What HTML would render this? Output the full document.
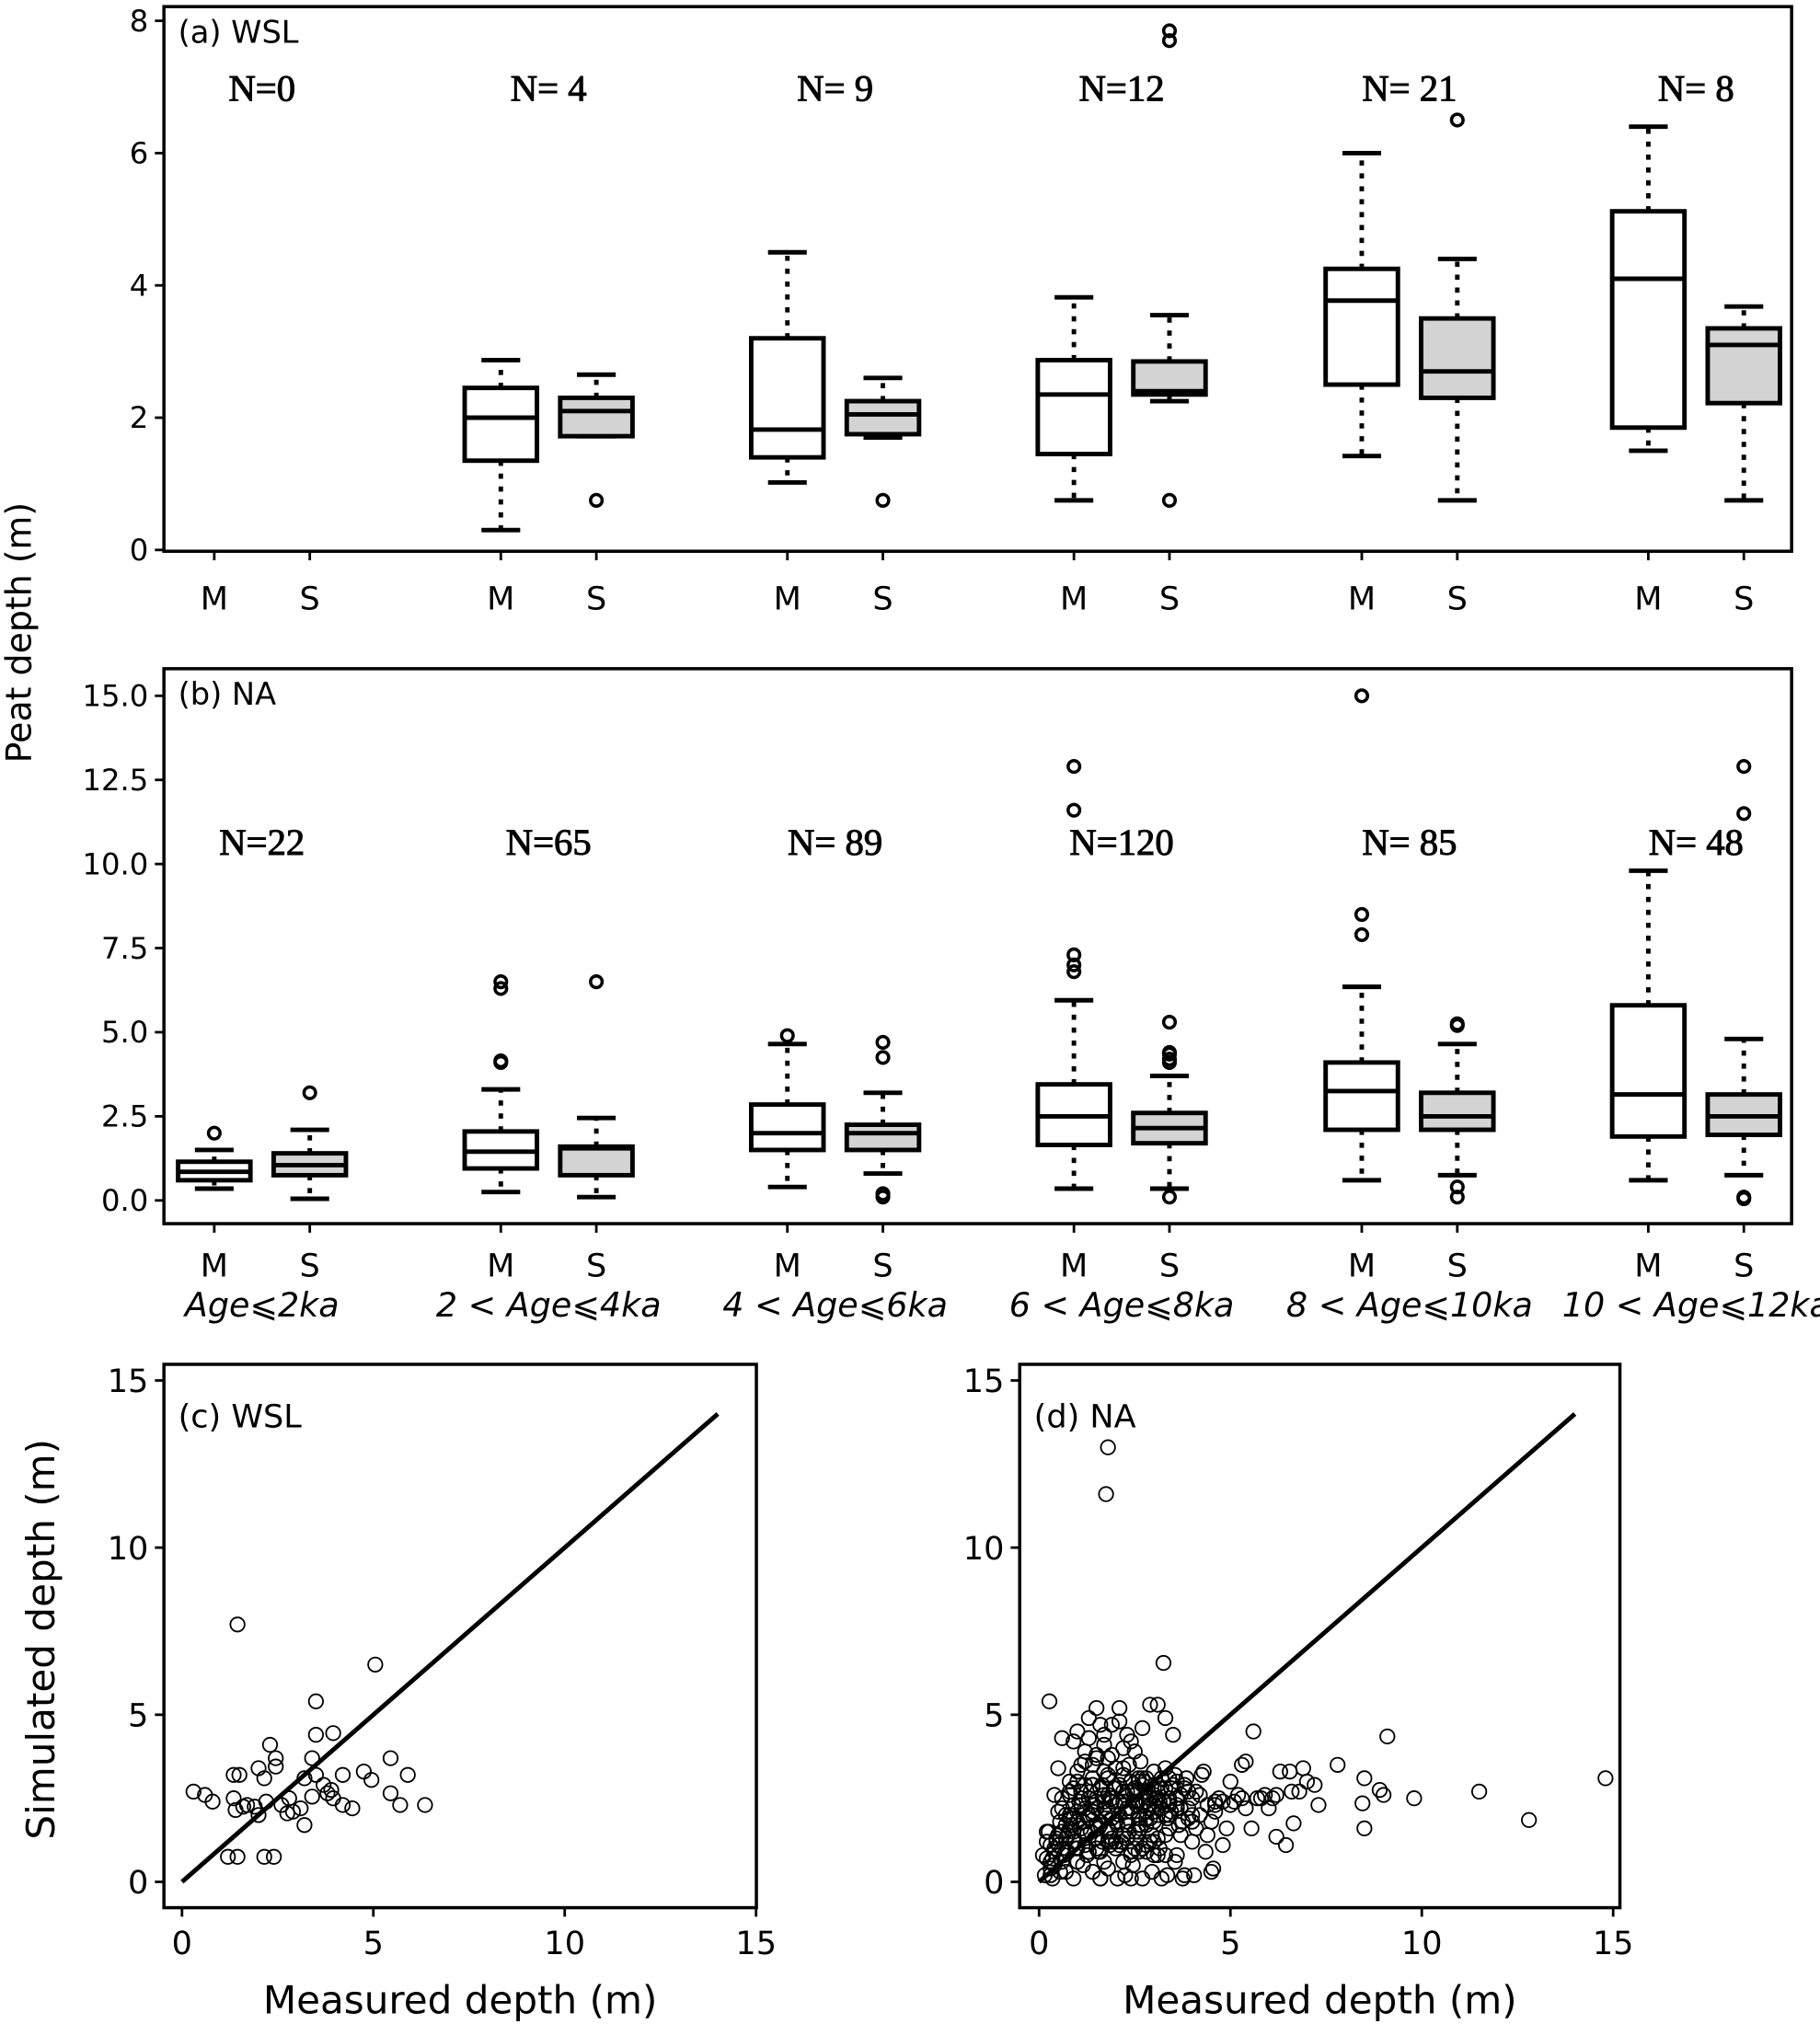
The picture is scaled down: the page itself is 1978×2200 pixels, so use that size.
<!DOCTYPE html>
<html><head><meta charset="utf-8"><style>
html,body{margin:0;padding:0;background:#fff}
svg{display:block}
text{font-family:"DejaVu Sans","Liberation Sans",sans-serif;fill:#000}
.serif{font-family:"Liberation Serif",serif}
</style></head><body>
<svg id="fig" width="1978" height="2200" viewBox="0 0 1410 1568" xmlns="http://www.w3.org/2000/svg"></svg>
<script>
// ---------- data ----------
const groupLabels = ["Age⩽2ka","2 < Age⩽4ka","4 < Age⩽6ka","6 < Age⩽8ka","8 < Age⩽10ka","10 < Age⩽12ka"];
const nWSL = ["N=0","N= 4","N= 9","N=12","N= 21","N= 8"];
const nNA = ["N=22","N=65","N= 89","N=120","N= 85","N= 48"];
// [lowWhisker, q1, median, q3, highWhisker]
const wslM = [null,[0.3,1.35,2.0,2.45,2.87],[1.02,1.4,1.82,3.2,4.5],[0.75,1.45,2.35,2.87,3.82],[1.42,2.5,3.77,4.25,6.0],[1.5,1.85,4.1,5.12,6.4]];
const wslS = [null,[1.72,1.72,2.1,2.3,2.65],[1.7,1.75,2.05,2.25,2.6],[2.25,2.35,2.4,2.85,3.55],[0.75,2.3,2.7,3.5,4.4],[0.75,2.22,3.1,3.35,3.68]];
const wslMOut = [[],[],[],[],[],[]];
const wslSOut = [[],[0.75],[0.75],[0.75,7.7,7.85],[6.5],[]];
const naM = [[0.35,0.6,0.85,1.15,1.5],[0.25,0.95,1.45,2.05,3.3],[0.4,1.5,2.0,2.85,4.65],[0.35,1.65,2.5,3.45,5.95],[0.6,2.1,3.25,4.1,6.35],[0.6,1.9,3.15,5.8,9.8]];
const naS = [[0.05,0.75,1.05,1.4,2.1],[0.1,0.75,1.55,1.6,2.45],[0.8,1.5,2.0,2.25,3.2],[0.35,1.7,2.15,2.6,3.7],[0.75,2.1,2.5,3.2,4.65],[0.75,1.95,2.5,3.15,4.8]];
const naMOut = [[2.0],[4.1,4.15,6.3,6.5],[4.9],[6.8,7.0,7.3,11.6,12.9],[7.9,8.5,15.0],[]];
const naSOut = [[3.2],[6.5],[4.25,4.7,0.1,0.2],[4.1,4.2,4.35,4.4,5.3,0.1],[5.2,5.25,0.1,0.4],[11.5,12.9,0.05,0.1]];
const yTicksA = [0,2,4,6,8];
const yTicksB = [0,2.5,5,7.5,10,12.5,15];
const yTickLabB = ["0.0","2.5","5.0","7.5","10.0","12.5","15.0"];
const sTicks = [0,5,10,15];
const wslX = [0.3,0.6,0.8,1.2,1.45,1.45,1.35,1.5,1.35,1.4,1.6,1.9,2.0,2.15,2.0,2.2,2.3,2.45,2.45,2.15,2.4,2.6,2.75,2.8,3.2,3.2,3.4,3.5,3.5,3.4,3.8,3.95,3.95,4.2,4.45,4.2,3.9,4.75,5.05,4.95,5.45,5.45,5.7,5.9,6.35,3.7,3.5,1.7,2.9,3.1];
const wslY = [2.7,2.6,2.4,0.75,0.75,7.7,3.2,3.2,2.5,2.15,2.25,2.25,3.4,3.1,2.0,2.4,4.1,3.7,3.45,0.75,0.75,2.3,2.05,2.5,1.7,3.1,3.7,4.4,3.2,2.55,2.65,4.45,2.5,2.3,2.2,3.2,2.75,3.3,6.5,3.05,3.7,2.65,2.3,3.2,2.3,2.9,5.4,2.3,2.1,2.2];
const naX = [1.8,1.75,3.25,0.27,5.6,9.1,14.8,11.5,12.8,9.8,8.9,9.0,8.5,8.45,8.5,7.8,7.3,6.45,6.2,6.65,6.55,6.9,6.8,5.55,6.2,5.9,5.4,
0.1,0.2,0.3,0.4,0.5,0.6,0.7,0.8,0.9,1.0,1.1,1.2,1.3,1.4,1.5,1.6,1.7,1.8,1.9,2.0,2.1,2.2,2.3,2.4,2.5,2.6,2.7,2.8,2.9,3.0,3.1,3.2,3.3,
0.15,0.35,0.45,0.65,0.85,0.95,1.05,1.25,1.35,1.55,1.65,1.85,1.95,2.05,2.25,2.35,2.55,2.65,2.85,2.95,3.15,3.35,3.45,3.6,3.75,3.9,
0.2,0.4,0.55,0.75,0.9,1.15,1.3,1.45,1.6,1.75,1.9,2.1,2.3,2.45,2.6,2.75,2.9,3.05,3.2,3.4,3.55,3.7,3.85,4.0,4.2,4.4,
0.3,0.5,0.7,0.95,1.1,1.25,1.4,1.55,1.7,1.85,2.0,2.15,2.35,2.5,2.65,2.8,3.0,3.15,3.3,3.5,3.65,3.8,4.1,4.3,4.5,4.7,
0.25,0.45,0.6,0.8,1.0,1.2,1.35,1.5,1.65,1.8,2.0,2.2,2.4,2.55,2.7,2.9,3.1,3.25,3.45,3.6,3.9,4.25,4.6,4.8,5.0,5.2,
0.35,0.55,0.75,1.0,1.15,1.4,1.6,1.8,2.05,2.25,2.45,2.7,2.95,3.1,3.35,3.55,3.75,4.05,4.35,4.55,4.9,5.1,5.3,5.7,6.0,6.3,
0.5,0.8,1.1,1.3,1.5,1.7,1.9,2.1,2.3,2.5,2.7,2.9,3.1,3.3,3.5,
1.0,1.3,1.5,1.7,1.9,2.2,2.5,2.8,3.0,1.2,1.6,2.1,2.4,0.6,0.9,1.4,1.8,2.6,3.2,3.4,
0.4,0.7,1.0,1.3,1.6,2.0,2.4,2.8,3.3,3.6,4.0,4.4,4.8,0.2,0.6,1.0,1.7,2.2,2.6,3.0,
1.6,1.8,2.0,2.3,1.4,1.7,2.1,2.4,0.7,0.9,1.2,1.5,1.9,2.2,2.5,2.8,3.1,3.4,3.7,4.0,
0.8,1.5,2.3,3.0,3.6,0.5,1.2,1.9,2.6,3.3,4.1,4.6,5.3,6.1,7.0,0.3,0.9,1.6,2.4,3.2,3.8,4.5,
0.6,0.9,1.1,1.4,1.6,1.9,2.1,2.4,2.6,2.9,3.1,3.4,0.7,1.0,1.3,1.5,1.8,2.0,2.3,2.6,2.8,3.0,3.3,3.6,
0.5,0.8,1.2,1.5,1.8,2.2,2.5,2.8,3.1,3.4,3.7,4.0,0.4,0.8,1.1,1.4,1.7,2.0,2.3,2.7,3.0,3.3,3.6,3.9,
0.3,0.6,0.9,1.2,1.5,1.8,2.1,2.4,2.7,3.0,1.0,1.4,1.8,2.2,2.6,3.0,3.4,3.8,4.2,4.6,5.0,5.4,5.8,6.6,7.2];
const naY = [13.0,11.6,6.55,5.4,4.5,4.35,3.1,2.7,1.85,2.5,2.75,2.6,3.1,2.35,1.6,3.5,2.3,1.1,1.35,1.75,3.3,3.4,2.7,1.6,2.6,2.6,3.6,
0.8,1.5,0.4,0.9,1.1,1.5,0.3,1.9,1.5,2.1,1.6,2.2,1.9,2.0,2.5,1.8,2.2,2.6,1.9,2.3,2.0,2.4,1.8,2.1,2.6,2.0,2.3,1.9,2.5,2.1,2.7,2.2,2.0,
0.2,0.7,1.3,0.8,1.7,1.2,2.4,1.4,2.7,1.6,2.9,1.5,2.8,1.7,2.6,1.5,2.3,1.6,2.2,1.4,2.4,1.9,2.8,2.5,1.8,2.2,
1.2,0.5,1.8,1.4,2.3,1.8,2.5,1.3,2.8,1.9,1.2,2.9,1.3,2.7,1.7,3.0,1.9,2.5,3.1,2.0,3.2,2.6,3.1,2.5,2.0,2.3,
0.6,2.1,2.0,1.0,2.7,0.8,3.1,0.9,3.3,1.1,3.4,1.2,3.5,1.0,3.6,1.1,3.3,1.0,3.4,2.9,1.7,2.8,2.7,3.3,1.8,2.5,
1.5,1.2,2.5,2.6,3.3,3.6,1.5,3.8,1.2,3.2,1.0,3.4,3.0,1.3,3.1,1.2,2.9,2.4,2.1,3.0,1.9,3.2,2.1,2.4,3.0,2.6,
0.1,0.3,0.9,0.6,0.5,0.3,0.1,0.4,0.1,0.2,0.5,0.1,0.3,0.8,0.2,0.6,0.1,0.2,0.9,0.4,1.6,2.4,3.5,2.5,2.2,3.3,
3.4,3.0,3.5,4.3,3.7,4.4,4.7,4.8,4.4,3.9,4.6,5.3,5.3,4.9,4.4,
4.5,4.9,5.2,4.1,3.8,4.0,2.4,3.1,3.3,3.9,4.7,5.2,4.2,4.3,4.2,3.5,3.7,3.1,2.8,2.5,
1.0,1.3,1.0,0.9,0.9,1.2,0.8,0.9,0.8,0.8,1.2,1.4,1.1,0.7,0.6,0.6,0.6,0.6,0.9,0.8,
1.7,1.6,1.8,1.7,2.3,2.4,2.4,2.1,2.0,2.8,2.9,2.4,2.5,2.7,2.8,2.4,2.5,2.3,2.2,2.0,
2.0,2.2,2.1,2.3,2.2,1.4,1.5,1.3,1.5,1.4,1.6,2.3,2.5,2.5,3.0,0.2,0.1,0.1,0.1,0.1,0.2,0.3,
2.2,1.9,2.3,2.1,1.8,2.4,2.0,2.2,1.9,2.3,2.0,2.4,1.7,1.8,2.0,1.7,2.1,1.8,2.2,1.9,2.1,1.8,2.0,2.3,
1.4,1.6,1.5,1.3,1.6,1.4,1.5,1.7,1.3,1.6,1.4,1.8,2.6,2.7,2.5,2.9,2.6,2.8,2.7,2.9,2.6,2.8,2.5,2.7,
1.1,1.0,1.2,1.1,1.0,1.2,1.1,0.9,1.0,1.2,3.0,2.9,3.1,3.2,3.0,2.8,3.1,2.9,2.6,2.4,2.3,2.2,2.5,2.7,2.9];

// ---------- drawing ----------
const svg = document.getElementById('fig');
const NS = "http://www.w3.org/2000/svg";
function mk(tag, attrs, parent, name, inter) {
  const e = document.createElementNS(NS, tag);
  for (const k in attrs) e.setAttribute(k, attrs[k]);
  
  
  (parent || svg).appendChild(e);
  return e;
}
function txt(x, y, s, size, parent, name, extra) {
  const t = mk('text', Object.assign({x: x, y: y, 'font-size': size}, extra || {}), parent, name, false);
  t.textContent = s;
  return t;
}
const mX = [166,388,610,832,1055,1277];
const sOff = 74, bw = 56, capw = 28;

function boxPanel(id, top, bot, yMin, yMax, ticks, tickLabs, Mdat, Sdat, Mout, Sout, nLabs, nY, title, showAges, labOff) {
  const g = mk('g', {}, svg, 'panel-' + id, false);
  const L = 127, R = 1388;
  const y0 = (id === 'a') ? 426 : 930, y1 = (id === 'a') ? 16 : 539;
  const yv = v => y0 + (v - yMin) / (yMax - yMin) * (y1 - y0);
  ticks.forEach((t, i) => {
    mk('line', {x1: L - 7, x2: L, y1: yv(t), y2: yv(t), stroke: '#000', 'stroke-width': 2}, g, 'y-tick', false);
    txt(L - 12, yv(t) + 8, tickLabs[i], 23, g, 'y-tick-label', {'text-anchor': 'end'});
  });
  function drawBox(x, d, outs, fill, nm) {
    const bg = mk('g', {}, g, nm, false);
    if (d) {
      const [lo, q1, md, q3, hi] = d;
      mk('line', {x1: x, x2: x, y1: yv(q3), y2: yv(hi), stroke: '#000', 'stroke-width': 3.5, 'stroke-dasharray': '4,6'}, bg, 'upper-whisker', false);
      mk('line', {x1: x, x2: x, y1: yv(q1), y2: yv(lo), stroke: '#000', 'stroke-width': 3.5, 'stroke-dasharray': '4,6'}, bg, 'lower-whisker', false);
      mk('line', {x1: x - capw / 2 - 1, x2: x + capw / 2 + 1, y1: yv(hi), y2: yv(hi), stroke: '#000', 'stroke-width': 3.5}, bg, 'upper-cap', false);
      mk('line', {x1: x - capw / 2 - 1, x2: x + capw / 2 + 1, y1: yv(lo), y2: yv(lo), stroke: '#000', 'stroke-width': 3.5}, bg, 'lower-cap', false);
      mk('rect', {x: x - bw / 2, y: yv(q3), width: bw, height: yv(q1) - yv(q3), fill: fill, stroke: '#000', 'stroke-width': 3.5}, bg, 'box', false);
      mk('line', {x1: x - bw / 2, x2: x + bw / 2, y1: yv(md), y2: yv(md), stroke: '#000', 'stroke-width': 3.5}, bg, 'median-line', false);
    }
    outs.forEach(o => mk('circle', {cx: x, cy: yv(o), r: 4.5, fill: 'none', stroke: '#000', 'stroke-width': 2.5}, bg, 'outlier', false));
  }
  mX.forEach((x, i) => {
    drawBox(x, Mdat[i], Mout[i], '#fff', 'box-measured-' + (i + 1));
    drawBox(x + sOff, Sdat[i], Sout[i], '#d3d3d3', 'box-simulated-' + (i + 1));
    txt(x + 37, nY, nLabs[i], 29, g, 'sample-count', {'text-anchor': 'middle', 'class': 'serif', stroke: '#000', 'stroke-width': 0.7});
    [['M', x], ['S', x + sOff]].forEach(([s, xx]) => {
      mk('line', {x1: xx, x2: xx, y1: bot, y2: bot + 7, stroke: '#000', 'stroke-width': 2}, g, 'x-tick', false);
      txt(xx, bot + labOff, s, 25, g, 'x-tick-label', {'text-anchor': 'middle'});
    });
    if (showAges) {
      txt(x + 37, bot + 72, groupLabels[i], 26, g, 'age-group-label', {'text-anchor': 'middle', 'font-style': 'italic'});
    }
  });
  mk('rect', {x: L, y: top, width: R - L, height: bot - top, fill: 'none', stroke: '#000', 'stroke-width': 2.5}, g, 'axes-frame', false);
  txt(138, top + 28, title, 24, g, 'panel-title');
}
boxPanel('a', 5, 427, 0, 8, yTicksA, yTicksA.map(String), wslM, wslS, wslMOut, wslSOut, nWSL, 78, '(a) WSL', false, 45);
boxPanel('b', 518, 948, 0, 15, yTicksB, yTickLabB, naM, naS, naMOut, naSOut, nNA, 662, '(b) NA', true, 41);
txt(0, 0, 'Peat depth (m)', 27, svg, 'y-axis-title', {'text-anchor': 'middle', transform: 'translate(24,490) rotate(-90)'});

function scatterPanel(id, L, R, x0px, xs, ys, title) {
  const g = mk('g', {}, svg, 'panel-' + id, false);
  const top = 1057, bot = 1478;
  const xv = v => x0px + v * 29.65;
  const yv = v => 1458 - v * 25.9;
  sTicks.forEach(t => {
    mk('line', {x1: L - 7, x2: L, y1: yv(t), y2: yv(t), stroke: '#000', 'stroke-width': 2}, g, 'y-tick', false);
    txt(L - 12, yv(t) + 9, String(t), 25, g, 'y-tick-label', {'text-anchor': 'end'});
    mk('line', {x1: xv(t), x2: xv(t), y1: bot, y2: bot + 7, stroke: '#000', 'stroke-width': 2}, g, 'x-tick', false);
    txt(xv(t), bot + 36, String(t), 25, g, 'x-tick-label', {'text-anchor': 'middle'});
  });
  const pts = mk('g', {}, g, 'scatter-points', false);
  xs.forEach((x, i) => mk('circle', {cx: xv(x), cy: yv(ys[i]), r: 5.5, fill: 'none', stroke: '#000', 'stroke-width': 1.3}, pts, 'data-point', false));
  mk('line', {x1: xv(0), y1: yv(0), x2: xv(14), y2: yv(14), stroke: '#000', 'stroke-width': 3.5}, g, 'one-to-one-line', false);
  mk('rect', {x: L, y: top, width: R - L, height: bot - top, fill: 'none', stroke: '#000', 'stroke-width': 2.5}, g, 'axes-frame', false);
  txt(L + 11, 1106, title, 25, g, 'panel-title');
  txt((L + R) / 2, 1560, 'Measured depth (m)', 30, g, 'x-axis-title', {'text-anchor': 'middle'});
}
scatterPanel('c', 127, 586, 141, wslX, wslY, '(c) WSL');
scatterPanel('d', 790, 1255, 805, naX, naY, '(d) NA');
txt(0, 0, 'Simulated depth (m)', 30, svg, 'y-axis-title-scatter', {'text-anchor': 'middle', transform: 'translate(42,1270) rotate(-90)'});
</script>
</body></html>
